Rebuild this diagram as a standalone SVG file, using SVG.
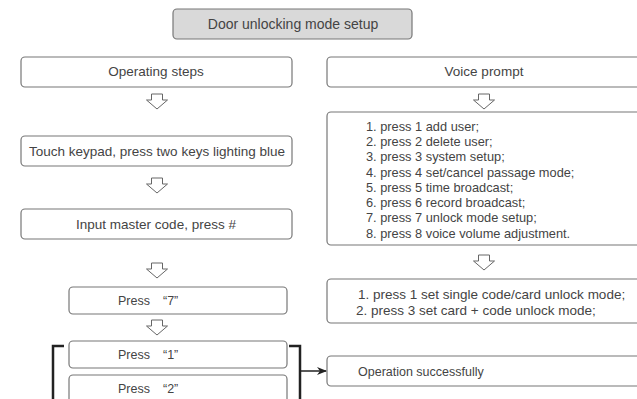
<svg xmlns="http://www.w3.org/2000/svg" width="637" height="399" viewBox="0 0 637 399">
<defs>
<style>
.box{fill:#fff;stroke:#777;stroke-width:1.2}
.title{fill:#d9d9d9;stroke:#777;stroke-width:1.2}
.t{font-family:"Liberation Sans",Arial,sans-serif;font-size:13.5px;fill:#444}
.l{font-size:12.8px}
.s{font-size:12.5px}
.c{text-anchor:middle}
.ar{fill:#fff;stroke:#666;stroke-width:1}
.br{fill:none;stroke:#222;stroke-width:2.5}
</style>
<path id="dn" class="ar" d="M-5.5,0 L5.5,0 L5.5,6 L10.5,6 L0,15 L-10.5,6 L-5.5,6 Z"/>
<marker id="ah" markerWidth="10" markerHeight="8" refX="9" refY="4" orient="auto" markerUnits="userSpaceOnUse">
<path d="M0,0 L10,4 L0,8 L3,4 Z" fill="#222"/>
</marker>
</defs>
<g id="title"><rect class="title" x="173" y="9" width="239" height="30" rx="4"/><text class="t c" x="293" y="29" style="font-size:14px">Door unlocking mode setup</text></g>
<g id="operating-steps"><rect class="box" x="21" y="57" width="271" height="30" rx="4"/><text class="t c" x="156" y="76">Operating steps</text></g>
<g id="voice-prompt"><rect class="box" x="327" y="57" width="320" height="30" rx="4"/><text class="t c" x="484" y="76">Voice prompt</text></g>
<g id="touch-keypad"><rect class="box" x="21" y="136" width="271" height="30" rx="4"/><text class="t c" x="157" y="155.5">Touch keypad, press two keys lighting blue</text></g>
<g id="menu-list"><rect class="box" x="327" y="112" width="320" height="133" rx="4"/>
<text class="t l" x="366" y="131">1. press 1 add user;</text>
<text class="t l" x="366" y="146">2. press 2 delete user;</text>
<text class="t l" x="366" y="161">3. press 3 system setup;</text>
<text class="t l" x="366" y="177">4. press 4 set/cancel passage mode;</text>
<text class="t l" x="366" y="192">5. press 5 time broadcast;</text>
<text class="t l" x="366" y="207">6. press 6 record broadcast;</text>
<text class="t l" x="366" y="222">7. press 7 unlock mode setup;</text>
<text class="t l" x="366" y="238">8. press 8 voice volume adjustment.</text>
</g>
<g id="master-code"><rect class="box" x="21" y="209" width="271" height="30" rx="4"/><text class="t c" x="156" y="228.5">Input master code, press #</text></g>
<g id="unlock-mode"><rect class="box" x="327" y="279" width="320" height="44" rx="4"/>
<text class="t" x="358" y="299">1. press 1 set single code/card unlock mode;</text>
<text class="t" x="356" y="315">2. press 3 set card + code unlock mode;</text>
</g>
<g id="press-7"><rect class="box" x="69" y="287" width="218" height="27" rx="4"/><text class="t s" x="118" y="305">Press</text><text class="t s" x="163" y="305">“7”</text></g>
<g id="press-1"><rect class="box" x="69" y="341" width="218" height="27" rx="4"/><text class="t s" x="118" y="359">Press</text><text class="t s" x="163" y="359">“1”</text></g>
<g id="press-2"><rect class="box" x="69" y="375" width="218" height="30" rx="4"/><text class="t s" x="118" y="393">Press</text><text class="t s" x="163" y="393">“2”</text></g>
<g id="operation-success"><rect class="box" x="327" y="356" width="320" height="30" rx="4"/><text class="t s" x="358" y="376">Operation successfully</text></g>
<g id="connectors">
<use href="#dn" x="157" y="94"/>
<use href="#dn" x="484" y="94"/>
<use href="#dn" x="157" y="178"/>
<use href="#dn" x="157" y="263"/>
<use href="#dn" x="484" y="255"/>
<use href="#dn" x="157" y="320"/>
<path class="br" d="M64,346 L53,346 L53,399"/>
<path class="br" d="M289,346 L300,346 L300,399"/>
<line x1="300" y1="371" x2="326" y2="371" stroke="#222" stroke-width="1.5" marker-end="url(#ah)"/>
</g>
</svg>
